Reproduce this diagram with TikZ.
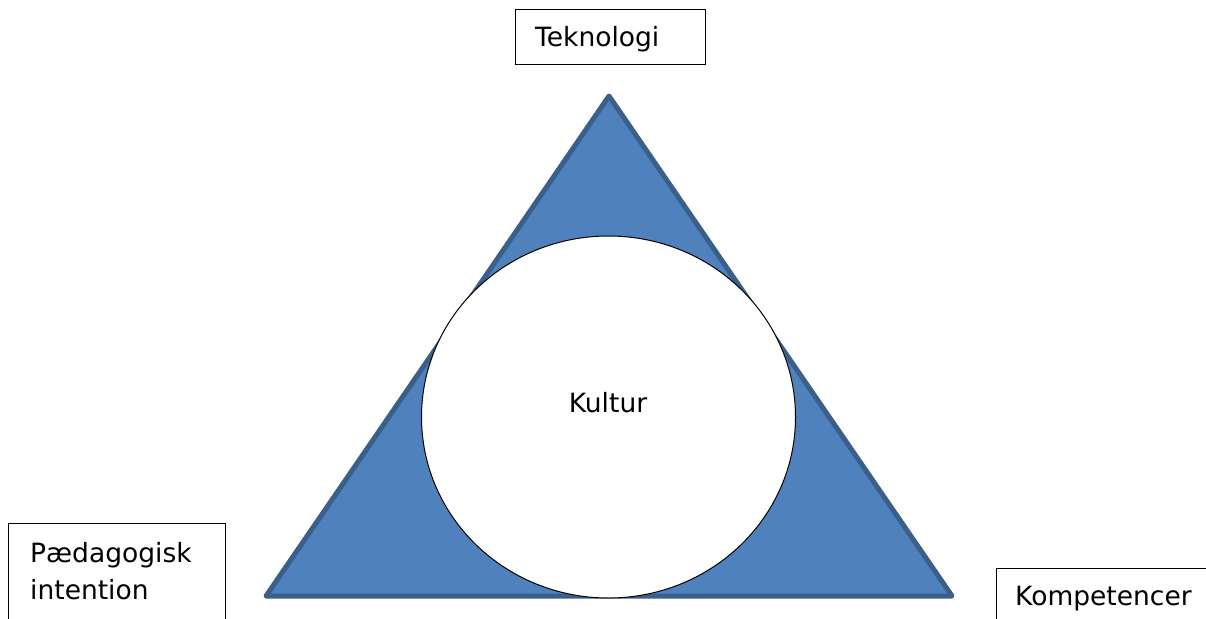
\documentclass[tikz,border=0pt]{standalone}
\usepackage{fontspec}
\setmainfont{DejaVu Sans}
\usetikzlibrary{shapes.geometric}
\definecolor{trifill}{HTML}{4F81BD}
\definecolor{tridraw}{HTML}{3A5F8B}
\begin{document}
\begin{tikzpicture}[x=1pt,y=-1pt,
  labelbox/.style={draw=black,line width=1.3pt,fill=white,anchor=north west,inner sep=0pt},
  lbl/.style={anchor=base west,inner sep=0pt,font=\fontsize{26.5}{37}\selectfont,align=left},
  tri/.style={fill=trifill,draw=tridraw,line width=5pt,line join=round}]
\useasboundingbox (0,0) rectangle (1206,618);
\clip (0,0) rectangle (1206,618);
\fill[white] (0,0) rectangle (1206,618);
% triangle
\coordinate (A) at (609,96);
\coordinate (B) at (266,596);
\coordinate (C) at (952,596);
\draw[tri] (A) -- (B) -- (C) -- cycle;
% circle
\node[ellipse,draw=black,line width=1pt,fill=white,minimum width=374pt,minimum height=362pt,inner sep=0pt] (circ) at (608.5,417) {};
\node[anchor=center,inner sep=0pt,font=\fontsize{26.5}{32}\selectfont] (kultur) at (608,403) {Kultur};
% boxes
\node[labelbox,minimum width=190pt,minimum height=55pt] (tbox) at (515,9) {};
\node[lbl] (ttxt) at (535,47) {Teknologi};
\node[labelbox,minimum width=217pt,minimum height=110pt] (pbox) at (8,523) {};
\node[lbl] (ptxt) at (30,562) {Pædagogisk};
\node[lbl] (ptxt2) at (30,599) {intention};
\node[labelbox,minimum width=230pt,minimum height=70pt] (kbox) at (996,568) {};
\node[lbl] (ktxt) at (1015,605) {Kompetencer};
\end{tikzpicture}
\end{document}
